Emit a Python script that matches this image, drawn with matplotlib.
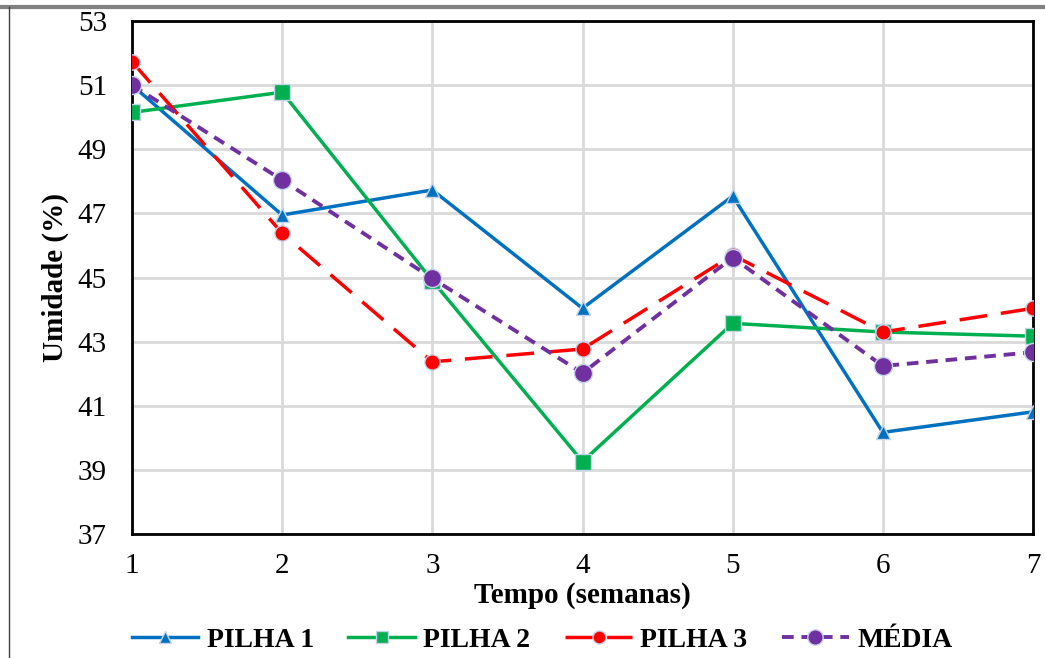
import matplotlib
matplotlib.use("Agg")
import matplotlib.pyplot as plt
from matplotlib.lines import Line2D

# data
semanas = [1, 2, 3, 4, 5, 6, 7]
pilha1 = [51.0, 46.95, 47.73, 44.04, 47.54, 40.17, 40.81]
pilha2 = [50.15, 50.78, 44.9, 39.26, 43.57, 43.3, 43.17]
pilha3 = [51.73, 46.38, 42.37, 42.77, 45.7, 43.3, 44.04]
media = [51.0, 48.04, 44.97, 42.02, 45.62, 42.24, 42.67]
y_ticks = [37, 39, 41, 43, 45, 47, 49, 51, 53]

plt.rcParams['font.family'] = ['Liberation Serif', 'DejaVu Serif']

fig = plt.figure(figsize=(10.45, 6.58), dpi=100)
ax = fig.add_axes([132/1045, 1-534/658, (1033-132)/1045, (534-21)/658])

edge = '#c5d3ea'
ax.plot(semanas, pilha1, color='#0070c0', lw=2.5, marker='^', ms=10,
        mec=edge, mew=1, label='PILHA 1', zorder=3)
ax.plot(semanas, pilha2, color='#00b050', lw=2.5, marker='s', ms=11,
        mec=edge, mew=1, label='PILHA 2', zorder=3)
ax.plot(semanas, pilha3, color='#ff0000', lw=2.5, marker='o', ms=11,
        mec=edge, mew=1, ls=(0, (8, 4)), label='PILHA 3', zorder=4)
ax.plot(semanas, media, color='#7030a0', lw=2.8, marker='o', ms=13,
        mec=edge, mew=1, ls=(0, (3, 2)), label='MÉDIA', zorder=5)

ax.set_xlim(1, 7)
ax.set_ylim(37, 53)
ax.set_xticks(semanas)
ax.set_yticks(y_ticks)
ax.grid(True, color='#d9d9d9', lw=2)
ax.set_axisbelow(True)
ax.tick_params(length=0, labelsize=21, pad=14)
ax.tick_params(axis='y', pad=18)
for s in ax.spines.values():
    s.set_linewidth(2)
    s.set_color('black')

ax.set_xlabel('Tempo (semanas)', fontsize=21, fontweight='bold', labelpad=2)
ax.set_ylabel('Umidade (%)', fontsize=21, fontweight='bold', labelpad=6)

leg = fig.legend(loc='center', bbox_to_anchor=(542/1045, 1-640/658), ncol=4,
                 frameon=False, handlelength=2.4, markerscale=0.85,
                 columnspacing=1.25, handletextpad=0.3,
                 prop={'weight': 'bold', 'size': 20})

# outer frame of the original figure
fig.add_artist(Line2D([0, 1], [1-7/658, 1-7/658], color='#808080', lw=3,
                      transform=fig.transFigure))
fig.add_artist(Line2D([9/1045, 9/1045], [0, 1-7/658], color='#404040', lw=1,
                      transform=fig.transFigure))

fig.savefig('out.png', dpi=100)
